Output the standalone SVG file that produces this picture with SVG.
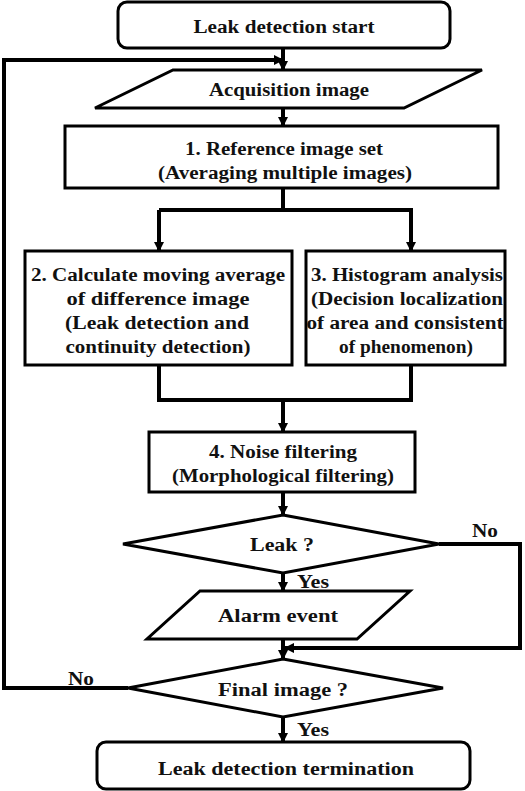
<svg xmlns="http://www.w3.org/2000/svg" width="525" height="791" viewBox="0 0 525 791">
<style>
.n{fill:#fff;stroke:#000;stroke-width:3}
.t{font-family:'Liberation Serif','DejaVu Serif',serif;font-weight:700;font-size:18px;fill:#111;text-anchor:middle}
.c{fill:none;stroke:#000;stroke-width:4}
</style>
<defs>
<marker id="ah" viewBox="0 0 10 10" refX="9" refY="5" markerWidth="2.6" markerHeight="2.6" orient="auto" markerUnits="strokeWidth">
<path d="M0,0 L10,5 L0,10 z" fill="#000"/>
</marker>
</defs>
<rect width="525" height="791" fill="#fff"/>
<g id="connectors">
<line class="c" x1="283" y1="48" x2="283" y2="70" marker-end="url(#ah)"/>
<polyline class="c" points="128,688 4,688 4,60 283,60" marker-end="url(#ah)"/>
<line class="c" x1="283" y1="108" x2="283" y2="126" marker-end="url(#ah)"/>
<line class="c" x1="283" y1="188" x2="283" y2="210"/>
<polyline class="c" points="159,210 411,210 411,251" marker-end="url(#ah)"/>
<line class="c" x1="159" y1="210" x2="159" y2="251" marker-end="url(#ah)"/>
<polyline class="c" points="159,365 159,400 411,400 411,365"/>
<line class="c" x1="283" y1="400" x2="283" y2="432" marker-end="url(#ah)"/>
<line class="c" x1="283" y1="492" x2="283" y2="515" marker-end="url(#ah)"/>
<line class="c" x1="283" y1="573" x2="283" y2="591" marker-end="url(#ah)"/>
<polyline class="c" points="439,544 520,544 520,648 285,648" marker-end="url(#ah)"/>
<line class="c" x1="283" y1="639" x2="283" y2="659" marker-end="url(#ah)"/>
<line class="c" x1="283" y1="717" x2="283" y2="742" marker-end="url(#ah)"/>
<text class="t" x="485" y="537" textLength="26" lengthAdjust="spacingAndGlyphs">No</text>
<text class="t" x="313" y="588" textLength="32" lengthAdjust="spacingAndGlyphs">Yes</text>
<text class="t" x="81" y="685" textLength="26" lengthAdjust="spacingAndGlyphs">No</text>
<text class="t" x="313" y="736" textLength="32" lengthAdjust="spacingAndGlyphs">Yes</text>
</g>
<g id="start">
<rect class="n" x="118" y="2" width="332" height="46" rx="9"/>
<text class="t" x="284" y="33" textLength="181" lengthAdjust="spacingAndGlyphs">Leak detection start</text>
</g>
<g id="acquisition">
<polygon class="n" points="173,70 482,70 404,108 95,108"/>
<text class="t" x="289" y="96" textLength="160" lengthAdjust="spacingAndGlyphs">Acquisition image</text>
</g>
<g id="step1">
<rect class="n" x="65" y="126" width="433" height="62"/>
<text class="t" x="284" y="155" textLength="198" lengthAdjust="spacingAndGlyphs">1. Reference image set</text>
<text class="t" x="285" y="179" textLength="254" lengthAdjust="spacingAndGlyphs">(Averaging multiple images)</text>
</g>
<g id="step2">
<rect class="n" x="25" y="251" width="267" height="114"/>
<text class="t" x="158" y="281" textLength="254" lengthAdjust="spacingAndGlyphs">2. Calculate moving average</text>
<text class="t" x="158" y="305" textLength="183" lengthAdjust="spacingAndGlyphs">of difference image</text>
<text class="t" x="157" y="329" textLength="184" lengthAdjust="spacingAndGlyphs">(Leak detection and</text>
<text class="t" x="158" y="353" textLength="185" lengthAdjust="spacingAndGlyphs">continuity detection)</text>
</g>
<g id="step3">
<rect class="n" x="306" y="251" width="199" height="114"/>
<text class="t" x="407" y="281" textLength="192" lengthAdjust="spacingAndGlyphs">3. Histogram analysis</text>
<text class="t" x="407" y="305" textLength="192" lengthAdjust="spacingAndGlyphs">(Decision localization</text>
<text class="t" x="405" y="329" textLength="197" lengthAdjust="spacingAndGlyphs">of area and consistent</text>
<text class="t" x="406" y="353" textLength="134" lengthAdjust="spacingAndGlyphs">of phenomenon)</text>
</g>
<g id="step4">
<rect class="n" x="149" y="432" width="266" height="60"/>
<text class="t" x="283" y="458" textLength="148" lengthAdjust="spacingAndGlyphs">4. Noise filtering</text>
<text class="t" x="283" y="482" textLength="222" lengthAdjust="spacingAndGlyphs">(Morphological filtering)</text>
</g>
<g id="leak">
<polygon class="n" points="283,515 439,544 283,573 123,544"/>
<text class="t" x="282" y="551" textLength="64" lengthAdjust="spacingAndGlyphs">Leak ?</text>
</g>
<g id="alarm">
<polygon class="n" points="200,591 410,591 357,639 147,639"/>
<text class="t" x="278" y="622" textLength="120" lengthAdjust="spacingAndGlyphs">Alarm event</text>
</g>
<g id="final">
<polygon class="n" points="283,659 443,688 283,717 128,688"/>
<text class="t" x="283" y="696" textLength="130" lengthAdjust="spacingAndGlyphs">Final image ?</text>
</g>
<g id="end">
<rect class="n" x="97" y="742" width="373" height="47" rx="9"/>
<text class="t" x="286" y="775" textLength="256" lengthAdjust="spacingAndGlyphs">Leak detection termination</text>
</g>
</svg>
